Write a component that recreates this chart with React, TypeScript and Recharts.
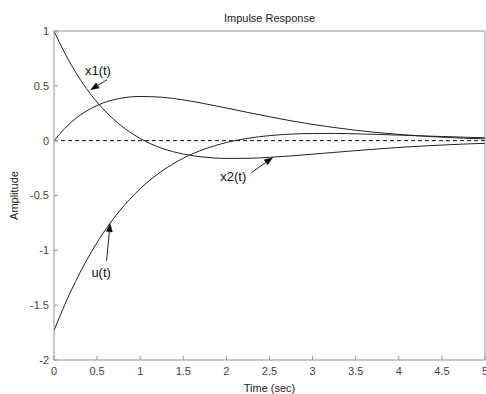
import React from 'react';
import { LineChart, Line, XAxis, YAxis, ReferenceLine, ReferenceDot } from 'recharts';

// Time samples (sec)
const timeSec = [0, 0.125, 0.25, 0.5, 0.75, 1, 1.25, 1.5, 1.75, 2, 2.25, 2.5, 2.75, 3, 3.25, 3.5, 3.75, 4, 4.25, 4.5, 4.75, 5];
// Curve starting at 1
const x1Values = [1, 0.799, 0.625, 0.351, 0.155, 0.02, -0.069, -0.122, -0.151, -0.162, -0.161, -0.152, -0.139, -0.123, -0.107, -0.091, -0.076, -0.062, -0.05, -0.04, -0.031, -0.024];
// Curve starting at 0
const x2Values = [0, 0.112, 0.201, 0.321, 0.383, 0.403, 0.396, 0.372, 0.337, 0.298, 0.257, 0.218, 0.181, 0.148, 0.12, 0.095, 0.074, 0.057, 0.043, 0.032, 0.023, 0.016];
// Control signal
const uValues = [-1.732, -1.495, -1.284, -0.928, -0.651, -0.438, -0.278, -0.16, -0.075, -0.017, 0.022, 0.046, 0.06, 0.065, 0.066, 0.062, 0.057, 0.051, 0.044, 0.038, 0.032, 0.026];

const xTicks = [0, 0.5, 1, 1.5, 2, 2.5, 3, 3.5, 4, 4.5, 5];
const yTicks = [-2, -1.5, -1, -0.5, 0, 0.5, 1];

const titleText = 'Impulse Response';
const xLabelText = 'Time (sec)';
const yLabelText = 'Amplitude';

// Annotation labels (data coordinates)
const annotationTexts = ['x1(t)', 'x2(t)', 'u(t)'];
const annotationTextAt = [
  { x: 0.51, y: 0.64 },
  { x: 2.08, y: -0.328 },
  { x: 0.547, y: -1.203 },
];
const annotationArrows = [
  [{ x: 0.616, y: 0.556 }, { x: 0.427, y: 0.465 }],
  [{ x: 2.29, y: -0.292 }, { x: 2.535, y: -0.155 }],
  [{ x: 0.61, y: -1.094 }, { x: 0.651, y: -0.757 }],
];

const data = timeSec.map((t, i) => ({ t, x1: x1Values[i], x2: x2Values[i], u: uValues[i] }));

const AXIS = '#8a9a8a';
const LINE = '#222';
const fmt = (v: number) => String(v);

const Arrow = (props: any) => {
  const { x1, y1, x2, y2 } = props;
  if (![x1, y1, x2, y2].every((v) => typeof v === 'number' && isFinite(v))) return null;
  const ang = Math.atan2(y2 - y1, x2 - x1);
  const L = 8;
  const W = 3;
  const bx = x2 - L * Math.cos(ang);
  const by = y2 - L * Math.sin(ang);
  const p1x = bx + W * Math.sin(ang);
  const p1y = by - W * Math.cos(ang);
  const p2x = bx - W * Math.sin(ang);
  const p2y = by + W * Math.cos(ang);
  return (
    <g>
      <line x1={x1} y1={y1} x2={bx} y2={by} stroke={LINE} strokeWidth={1} />
      <polygon points={`${x2},${y2} ${p1x},${p1y} ${p2x},${p2y}`} fill="#000" stroke="#000" strokeWidth={0.5} />
    </g>
  );
};

export default function App() {
  return (
    <div
      style={{
        position: 'absolute',
        left: 0,
        top: 0,
        width: 486,
        height: 394,
        background: '#fff',
        fontFamily: '"Liberation Sans", Arial, sans-serif',
      }}
    >
      <LineChart width={486} height={394} data={data} margin={{ top: 30, right: 0, bottom: 14, left: 10 }}>
        <XAxis
          dataKey="t"
          type="number"
          domain={[0, 5]}
          ticks={xTicks}
          interval={0}
          height={20}
          tickSize={-4}
          tickMargin={11}
          stroke={AXIS}
          tick={{ fill: '#444', fontSize: 11 }}
          tickFormatter={fmt}
          allowDataOverflow
          label={{ value: xLabelText, position: 'bottom', offset: 4, fill: '#222', fontSize: 11 }}
        />
        <XAxis
          xAxisId="top"
          orientation="top"
          dataKey="t"
          type="number"
          domain={[0, 5]}
          ticks={xTicks}
          interval={0}
          height={1}
          tickSize={-4}
          tick={false}
          stroke={AXIS}
          allowDataOverflow
          label={{ value: titleText, position: 'top', offset: 8, fill: '#222', fontSize: 11 }}
        />
        <YAxis
          type="number"
          domain={[-2, 1]}
          ticks={yTicks}
          interval={0}
          width={44}
          tickSize={-4}
          tickMargin={9}
          stroke={AXIS}
          tick={{ fill: '#444', fontSize: 11 }}
          tickFormatter={fmt}
          allowDataOverflow
          label={{
            value: yLabelText,
            angle: -90,
            position: 'insideLeft',
            offset: 4,
            fill: '#222',
            fontSize: 11,
            style: { textAnchor: 'middle' },
          }}
        />
        <YAxis
          yAxisId="right"
          orientation="right"
          type="number"
          domain={[-2, 1]}
          ticks={yTicks}
          interval={0}
          width={1}
          tickSize={-4}
          tick={false}
          stroke={AXIS}
          allowDataOverflow
        />
        <ReferenceLine
          xAxisId="top"
          yAxisId="right"
          y={0}
          stroke="#111"
          strokeDasharray="4 3"
          strokeWidth={1}
        />
        <Line dataKey="x1" type="monotone" stroke={LINE} strokeWidth={1} dot={false} isAnimationActive={false} />
        <Line dataKey="x2" type="monotone" stroke={LINE} strokeWidth={1} dot={false} isAnimationActive={false} />
        <Line dataKey="u" type="monotone" stroke={LINE} strokeWidth={1} dot={false} isAnimationActive={false} />
        {annotationArrows.map((seg, i) => (
          <ReferenceLine key={`arr-${i}`} segment={seg} ifOverflow="visible" shape={<Arrow />} />
        ))}
        {annotationTexts.map((txt, i) => (
          <ReferenceDot
            key={`lbl-${i}`}
            x={annotationTextAt[i].x}
            y={annotationTextAt[i].y}
            r={0}
            fill="none"
            stroke="none"
            ifOverflow="visible"
            label={{ value: txt, position: 'center', fill: '#111', fontSize: 13 }}
          />
        ))}
      </LineChart>
    </div>
  );
}
